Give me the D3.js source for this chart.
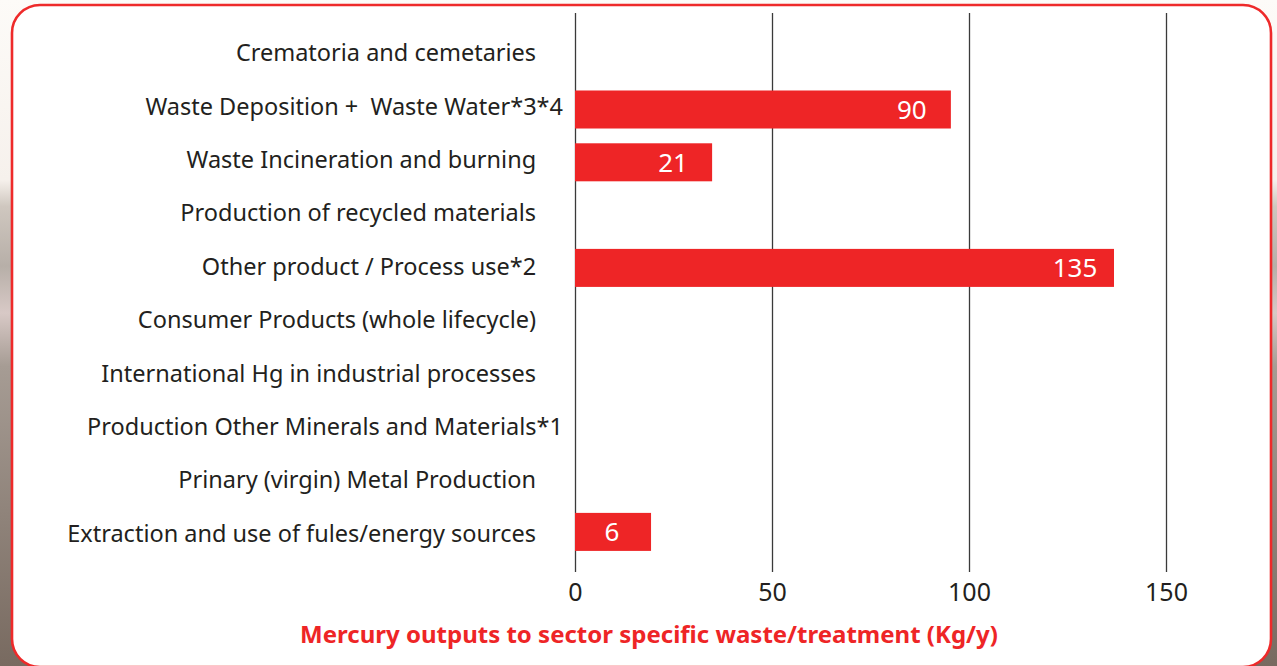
<!DOCTYPE html>
<html>
<head>
<meta charset="utf-8">
<title>Mercury outputs to sector specific waste/treatment</title>
<style>
  body { margin: 0; background: #fff; }
  svg { display: block; }
  .grid line { stroke: #3a3a3a; stroke-width: 1.3; }
  .grid path { display: none; }
  .xaxis path, .xaxis line { display: none; }
  .xaxis text { font-family: "Noto Sans", sans-serif; font-size: 25px; fill: #231f20; }
  .cat { font-family: "Noto Sans", sans-serif; font-size: 23.5px; fill: #231f20; white-space: pre; }
  .bar { fill: #ee2526; }
  .val { font-family: "Noto Sans", sans-serif; font-size: 26px; fill: #fff; text-anchor: middle; }
</style>
</head>
<body>
<script src="https://d3js.org/d3.v7.min.js"></script>
<script>
// categories, top to bottom (trailing figure spaces keep the source's ragged right edge)
var categories = [
  "Crematoria and cemetaries\u2007\u2007",
  "Waste Deposition +  Waste Water*3*4",
  "Waste Incineration and burning\u2007\u2007",
  "Production of recycled materials\u2007\u2007",
  "Other product / Process use*2\u2007\u2007",
  "Consumer Products (whole lifecycle)\u2007\u2007",
  "International Hg in industrial processes\u2007\u2007",
  "Production Other Minerals and Materials*1",
  "Prinary (virgin) Metal Production\u2007\u2007",
  "Extraction and use of fules/energy sources\u2007\u2007"
];
// bar lengths as drawn (Kg/y)
var barLengths = [0, 95.4, 34.8, 0, 136.8, 0, 0, 0, 0, 19.3];
// printed value labels
var valueLabels = ["", "90", "21", "", "135", "", "", "", "", "6"];
var ticks = [0, 50, 100, 150];
var axisTitle = "Mercury outputs to sector specific waste/treatment (Kg/y)";

var W = 1277, H = 666;
var svg = d3.select("body").append("svg").attr("width", W).attr("height", H);

// blurry photo behind the panel, approximated with a gradient
var defs = svg.append("defs");
var grad = defs.append("linearGradient").attr("id", "bg").attr("x1", 0).attr("y1", 0).attr("x2", 0).attr("y2", 1);
[[0, "#fdfbf8"], [0.27, "#f6f1ec"], [0.31, "#cfc7bf"], [0.4, "#b7afa8"], [0.47, "#d8c9c6"], [0.55, "#a69c94"], [1, "#786a60"]]
  .forEach(function(s){ grad.append("stop").attr("offset", s[0]).attr("stop-color", s[1]); });
svg.append("rect").attr("width", W).attr("height", H).attr("fill", "url(#bg)");

svg.append("rect")
  .attr("x", 12).attr("y", 5)
  .attr("width", 1259).attr("height", 662)
  .attr("rx", 28).attr("ry", 28)
  .attr("fill", "#fff")
  .attr("stroke", "#ee2a2a")
  .attr("stroke-width", 2.6);

var xScale = d3.scaleLinear().domain([0, 150]).range([575, 1166]);
// labels and bars sit on slightly different rows in the source
var yLabel = d3.scaleBand().domain(categories).range([26.5, 560]);
var yBar = d3.scaleBand().domain(categories).range([30.3, 558.3]).paddingInner(0.28).paddingOuter(0.14);

// vertical grid lines
svg.append("g")
  .attr("class", "grid")
  .attr("transform", "translate(0,572)")
  .call(d3.axisBottom(xScale).tickValues(ticks).tickSize(-559).tickFormat(""));

// tick labels
svg.append("g")
  .attr("class", "xaxis")
  .attr("transform", "translate(0,578)")
  .call(d3.axisBottom(xScale).tickValues(ticks).tickSize(0).tickPadding(5));

// bars
svg.selectAll(".bar")
  .data(categories)
  .enter()
  .append("rect")
  .attr("class", "bar")
  .attr("x", xScale(0))
  .attr("y", function(d){ return yBar(d); })
  .attr("width", function(d, i){ return xScale(barLengths[i]) - xScale(0); })
  .attr("height", yBar.bandwidth())
  .style("display", function(d, i){ return barLengths[i] > 0 ? null : "none"; });

svg.selectAll(".val")
  .data(categories)
  .enter()
  .append("text")
  .attr("class", "val")
  .attr("x", function(d, i){ return xScale(barLengths[i]) - 39; })
  .attr("y", function(d){ return yBar(d) + yBar.bandwidth() / 2; })
  .attr("dy", "0.36em")
  .text(function(d, i){ return valueLabels[i]; });

// category labels
svg.selectAll(".cat")
  .data(categories)
  .enter()
  .append("text")
  .attr("class", "cat")
  .attr("x", 563)
  .attr("y", function(d){ return yLabel(d) + yLabel.bandwidth() / 2; })
  .attr("dy", "0.35em")
  .attr("text-anchor", "end")
  .text(function(d){ return d; });

svg.append("text")
  .attr("x", 649)
  .attr("y", 643)
  .attr("text-anchor", "middle")
  .style("font-family", "Noto Sans, sans-serif")
  .style("font-weight", "bold")
  .style("font-size", "24px")
  .style("fill", "#ee2526")
  .text(axisTitle);
</script>
</body>
</html>
